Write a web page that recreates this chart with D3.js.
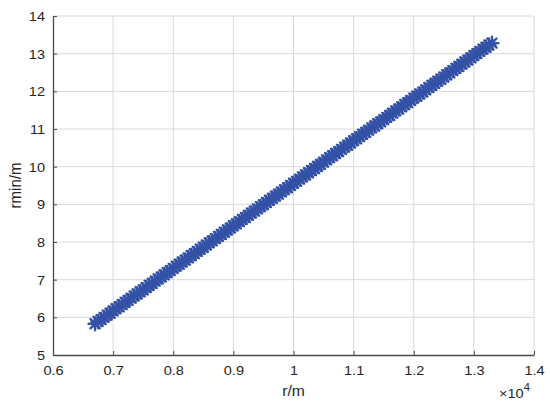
<!DOCTYPE html>
<html><head><meta charset="utf-8">
<script src="https://cdn.jsdelivr.net/npm/d3@7"></script>
<style>body{margin:0;background:#fff;} text{font-family:"Liberation Sans",Arial,sans-serif;}</style>
</head><body><svg id="c" width="550" height="407"></svg>
<script>
const rValues = [6700,6750,6800,6850,6900,6950,7000,7050,7100,7150,7200,7250,7300,7350,7400,7450,7500,7550,7600,7650,7700,7750,7800,7850,7900,7950,8000,8050,8100,8150,8200,8250,8300,8350,8400,8450,8500,8550,8600,8650,8700,8750,8800,8850,8900,8950,9000,9050,9100,9150,9200,9250,9300,9350,9400,9450,9500,9550,9600,9650,9700,9750,9800,9850,9900,9950,10000,10050,10100,10150,10200,10250,10300,10350,10400,10450,10500,10550,10600,10650,10700,10750,10800,10850,10900,10950,11000,11050,11100,11150,11200,11250,11300,11350,11400,11450,11500,11550,11600,11650,11700,11750,11800,11850,11900,11950,12000,12050,12100,12150,12200,12250,12300,12350,12400,12450,12500,12550,12600,12650,12700,12750,12800,12850,12900,12950,13000,13050,13100,13150,13200,13250,13300];
const rminValues = [5.83,5.89,5.94,6.00,6.06,6.11,6.17,6.23,6.28,6.34,6.40,6.45,6.51,6.57,6.62,6.68,6.73,6.79,6.85,6.90,6.96,7.02,7.07,7.13,7.19,7.24,7.30,7.36,7.41,7.47,7.52,7.58,7.64,7.69,7.75,7.81,7.86,7.92,7.98,8.03,8.09,8.15,8.20,8.26,8.32,8.37,8.43,8.48,8.54,8.60,8.65,8.71,8.77,8.82,8.88,8.94,8.99,9.05,9.11,9.16,9.22,9.27,9.33,9.39,9.44,9.50,9.56,9.61,9.67,9.73,9.78,9.84,9.90,9.95,10.01,10.06,10.12,10.18,10.24,10.29,10.35,10.40,10.46,10.52,10.57,10.63,10.69,10.74,10.80,10.86,10.91,10.97,11.03,11.08,11.14,11.19,11.25,11.31,11.36,11.42,11.48,11.53,11.59,11.65,11.70,11.76,11.82,11.87,11.93,11.98,12.04,12.10,12.16,12.21,12.27,12.32,12.38,12.44,12.49,12.55,12.61,12.66,12.72,12.78,12.83,12.89,12.95,13.00,13.06,13.12,13.17,13.23,13.28];
const xTicks = [6000,7000,8000,9000,10000,11000,12000,13000,14000];
const xTickLabels = ["0.6","0.7","0.8","0.9","1","1.1","1.2","1.3","1.4"];
const yTicks = [5,6,7,8,9,10,11,12,13,14];
const xLabel = "r/m", yLabel = "rmin/m";

const svg = d3.select("#c");
const L = 53, R = 534, T = 16, B = 355;
const x = d3.scaleLinear().domain([6000,14000]).range([L,R]);
const y = d3.scaleLinear().domain([5,14]).range([B,T]);
const SX = 1.12;

// grid
const g = svg.append("g");
g.selectAll(".gx").data(xTicks.slice(1)).join("line")
  .attr("x1",d=>x(d)).attr("x2",d=>x(d)).attr("y1",T).attr("y2",B)
  .attr("stroke","#d9d9d9").attr("stroke-width",1);
g.selectAll(".gy").data(yTicks.slice(1)).join("line")
  .attr("x1",L).attr("x2",R).attr("y1",d=>y(d)).attr("y2",d=>y(d))
  .attr("stroke","#d9d9d9").attr("stroke-width",1);

// axes
const xa = svg.append("g").attr("transform",`translate(0,${B})`)
  .call(d3.axisBottom(x).tickValues(xTicks).tickFormat((d,i)=>xTickLabels[i]).tickSizeInner(-4).tickSizeOuter(0));
const ya = svg.append("g").attr("transform",`translate(${L},0)`)
  .call(d3.axisLeft(y).tickValues(yTicks).tickSizeInner(-4).tickSizeOuter(0));
[xa,ya].forEach(a=>{
  a.select(".domain").attr("stroke","#4a4a4a").attr("stroke-width",1.3);
  a.selectAll(".tick line").attr("stroke","#4a4a4a").attr("stroke-width",1);
  a.selectAll(".tick text").attr("fill","#262626").attr("font-size",13)
    .attr("font-family","Liberation Sans, Arial, sans-serif");
});
xa.selectAll(".tick text").attr("y",null).attr("dy",null)
  .attr("transform",`translate(0,20) scale(${SX},1)`);
ya.selectAll(".tick text").attr("x",null).attr("dy","0.35em")
  .attr("transform",`translate(-8,0) scale(${SX},1)`);

// markers
const Rm = 6.5, dd = Rm*0.7071;
const star = `M${-Rm},0L${Rm},0M0,${-Rm}L0,${Rm}M${-dd},${-dd}L${dd},${dd}M${-dd},${dd}L${dd},${-dd}`;
svg.append("g").selectAll("path").data(rValues.map((r,i)=>[r,rminValues[i]])).join("path")
  .attr("d",star).attr("transform",d=>`translate(${x(d[0])},${y(d[1])})`)
  .attr("stroke","#3352a6").attr("stroke-width",2.4).attr("fill","none").attr("stroke-linecap","round");

// labels
svg.append("text").attr("transform",`translate(${(L+R)/2},396) scale(${SX},1)`)
  .attr("text-anchor","middle").attr("font-size",14).attr("fill","#262626").text(xLabel);
svg.append("text").attr("transform",`translate(21,${(T+B)/2}) rotate(-90) scale(1,${SX})`)
  .attr("text-anchor","middle").attr("font-size",15).attr("fill","#262626").text(yLabel);
const ex = svg.append("text").attr("transform",`translate(499,398) scale(${SX},1)`)
  .attr("font-size",13).attr("fill","#262626");
ex.append("tspan").text("×10");
ex.append("tspan").attr("font-size",10).attr("dy",-7).text("4");
</script></body></html>
